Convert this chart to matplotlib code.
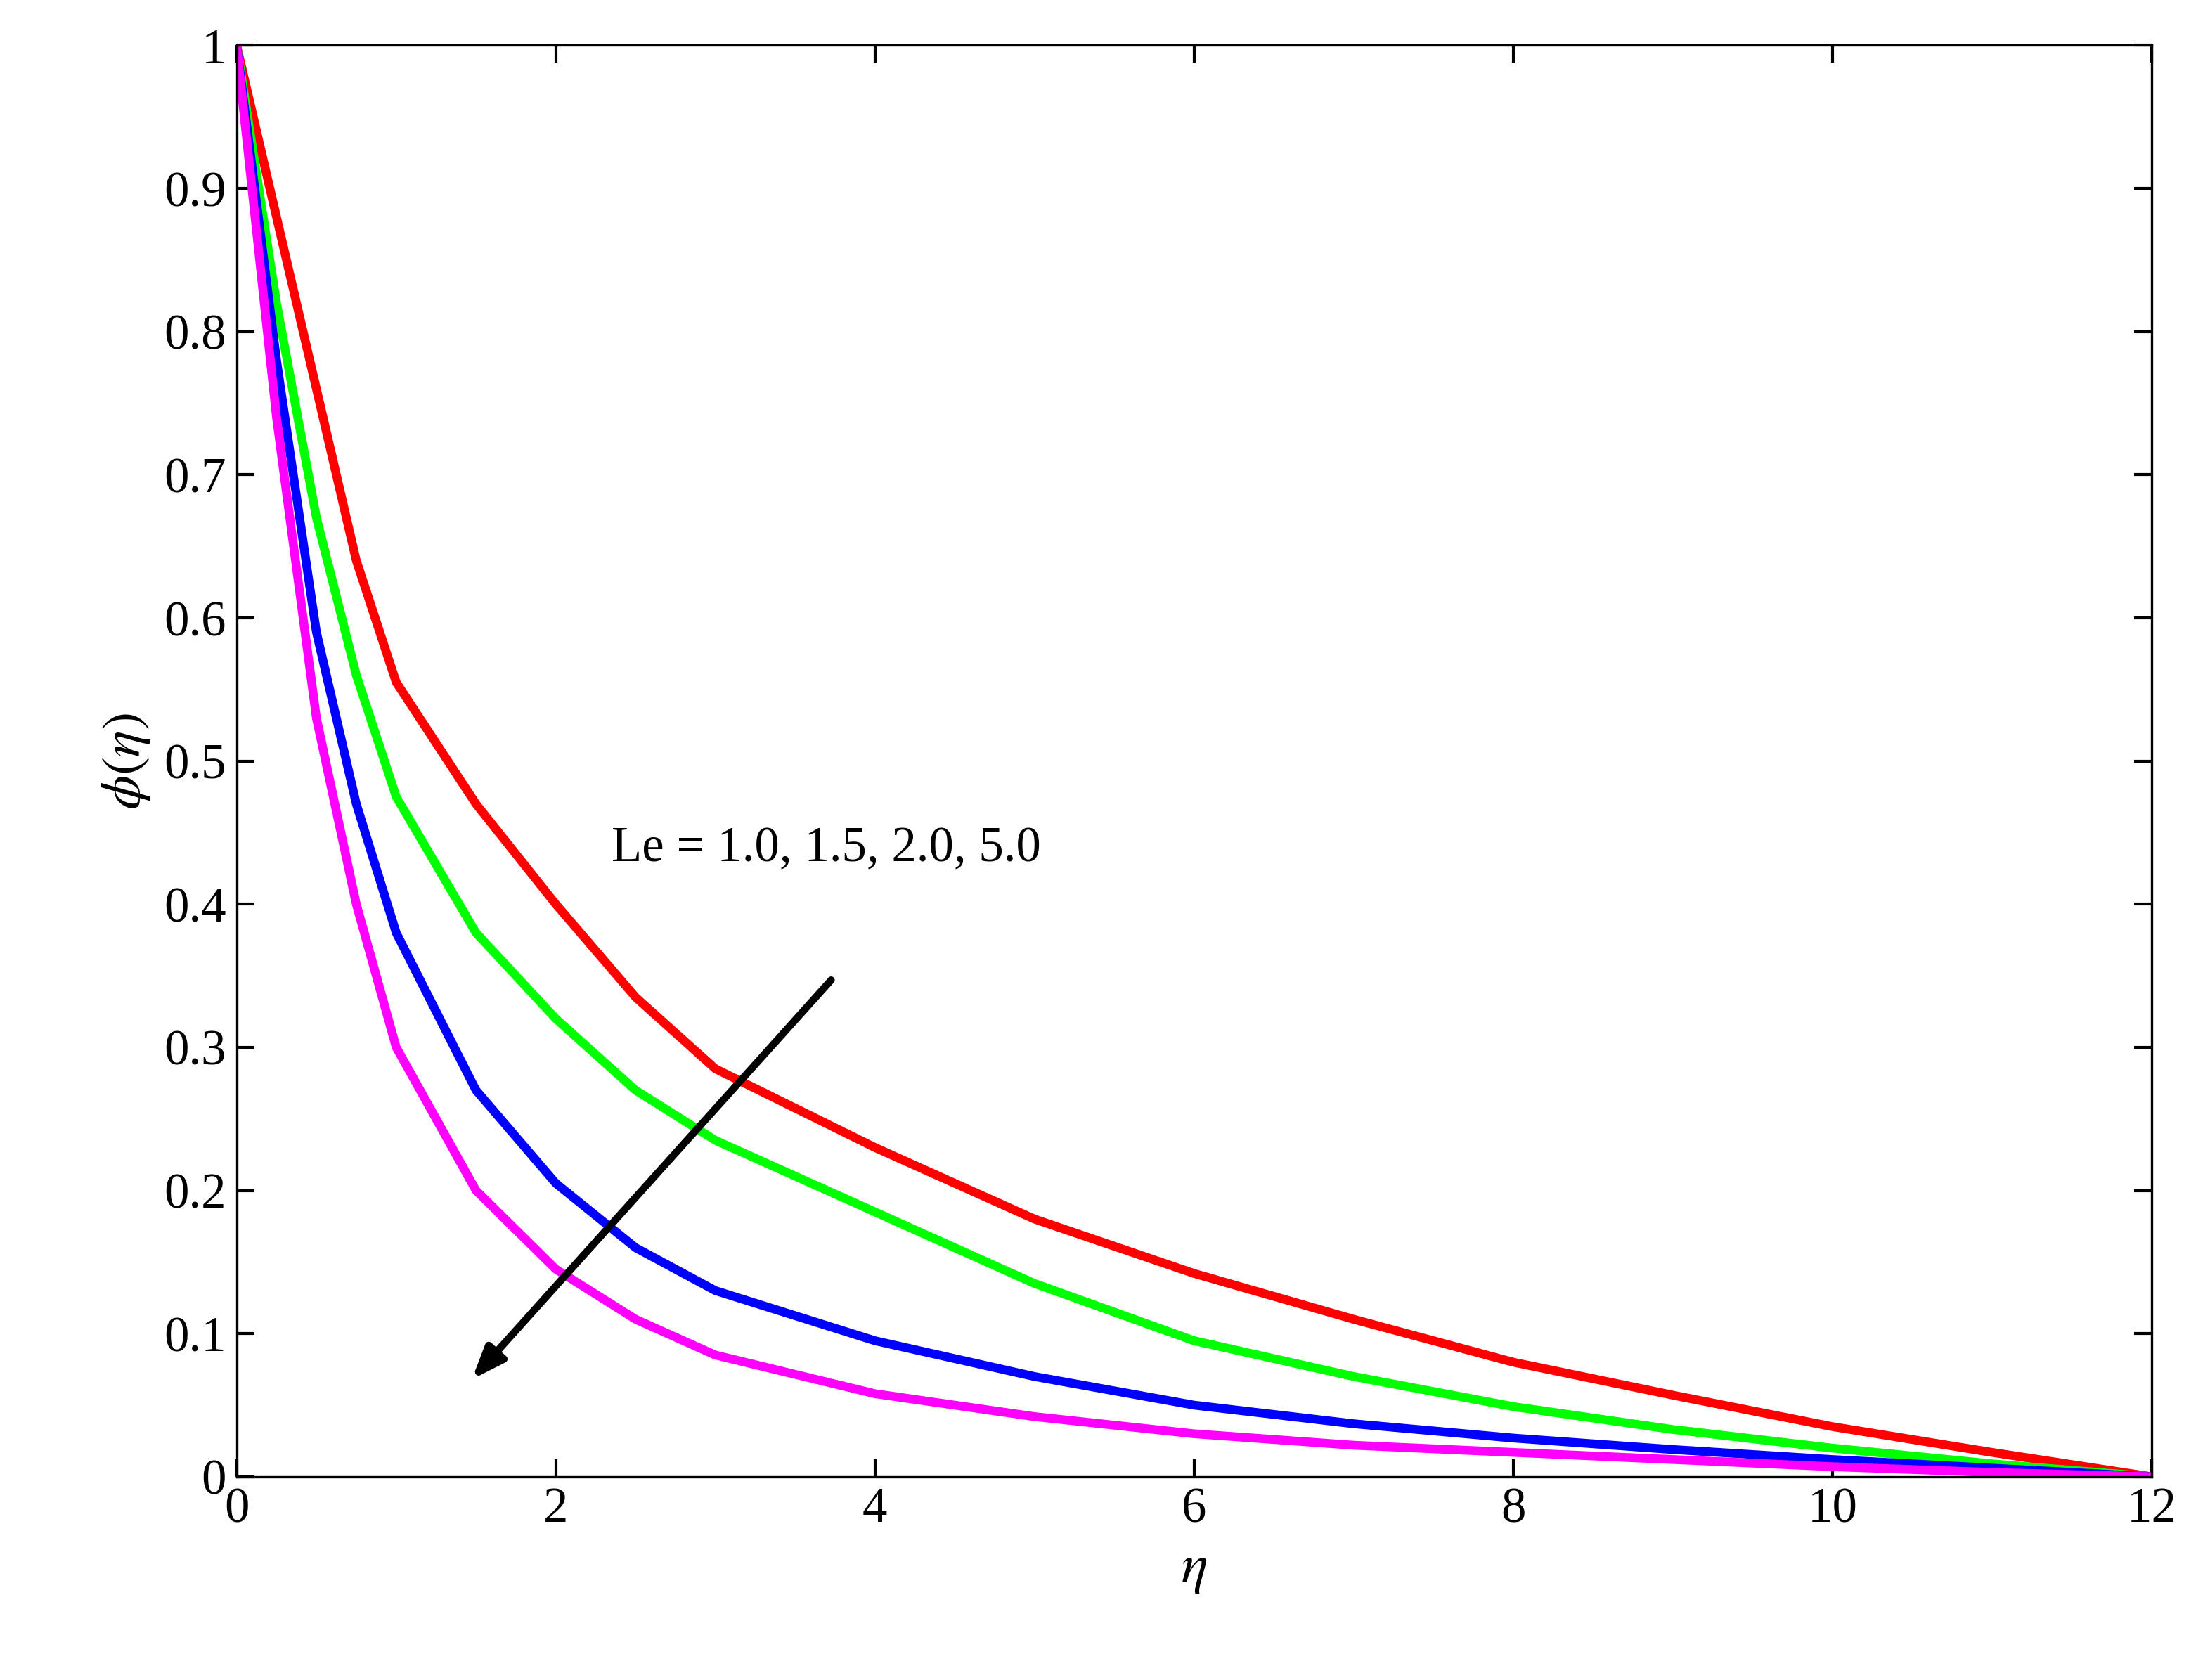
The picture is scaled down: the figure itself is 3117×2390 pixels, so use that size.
import matplotlib.pyplot as plt

# Values
eta = [0, 0.25, 0.5, 0.75, 1, 1.5, 2, 2.5, 3, 4, 5, 6, 7, 8, 9, 10, 11, 12]
phi_le10 = [1, 0.88, 0.76, 0.64, 0.555, 0.47, 0.40, 0.335, 0.285, 0.23, 0.18, 0.142, 0.11, 0.08, 0.057, 0.035, 0.017, 0]
phi_le15 = [1, 0.82, 0.67, 0.56, 0.475, 0.38, 0.32, 0.27, 0.235, 0.185, 0.135, 0.095, 0.07, 0.049, 0.033, 0.02, 0.009, 0]
phi_le20 = [1, 0.78, 0.59, 0.47, 0.38, 0.27, 0.205, 0.16, 0.13, 0.095, 0.07, 0.05, 0.037, 0.027, 0.019, 0.012, 0.006, 0]
phi_le50 = [1, 0.74, 0.53, 0.40, 0.30, 0.20, 0.145, 0.11, 0.085, 0.058, 0.042, 0.03, 0.022, 0.017, 0.012, 0.007, 0.003, 0]

plt.rcParams['font.family'] = ['Liberation Serif', 'DejaVu Serif']
plt.rcParams['mathtext.fontset'] = 'stix'

fig = plt.figure(figsize=(10.39, 7.967), dpi=300)
ax = fig.add_axes([0.108, 0.121, 0.874, 0.852])

for y, c in zip([phi_le10, phi_le15, phi_le20, phi_le50], ['#ff0000', '#00ff00', '#0000ff', '#ff00ff']):
    ax.plot(eta, y, color=c, lw=3)

ax.annotate('', xy=(1.45, 0.065), xytext=(3.75, 0.35),
            arrowprops=dict(arrowstyle='-|>,head_length=0.9,head_width=0.35', color='black', lw=2.5))
ax.text(2.35, 0.43, 'Le = 1.0, 1.5, 2.0, 5.0', fontsize=17)

ax.set_xlim(0, 12)
ax.set_ylim(0, 1)
ax.set_xticks(range(0, 13, 2))
ax.set_yticks([i / 10 for i in range(11)])
ax.set_yticklabels(['0'] + [f'{i / 10:g}' for i in range(1, 10)] + ['1'])
ax.tick_params(direction='in', top=True, right=True, labelsize=17, length=6, width=1)
ax.set_xlabel(r'$\eta$', fontsize=19)
ax.set_ylabel(r'$\phi(\eta)$', fontsize=19)

fig.savefig('out.png')
